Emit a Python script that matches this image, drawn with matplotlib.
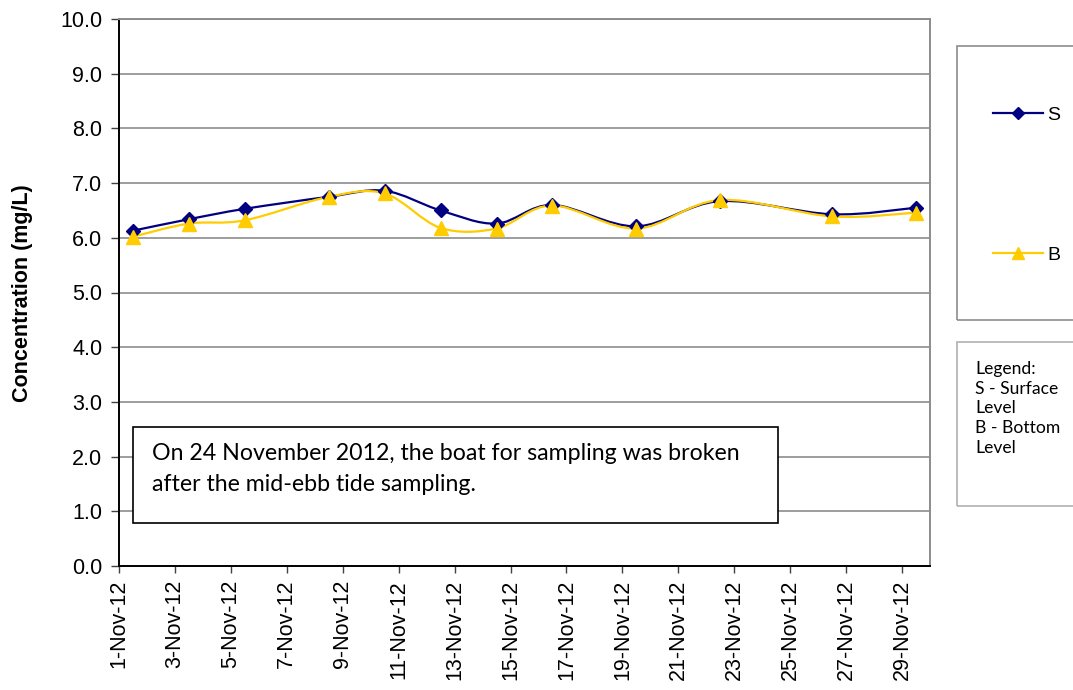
import matplotlib
matplotlib.use("Agg")
import matplotlib.pyplot as plt
import matplotlib.dates as mdates
import numpy as np
import pandas as pd
from matplotlib.path import Path
from matplotlib.patches import PathPatch, Rectangle
from matplotlib.lines import Line2D

# sampling times (mid-day) and concentrations (mg/L)
sample_times = ["2012-11-01 12:00", "2012-11-03 12:00", "2012-11-05 12:00",
                "2012-11-08 12:00", "2012-11-10 12:00", "2012-11-12 12:00",
                "2012-11-14 12:00", "2012-11-16 12:00", "2012-11-19 12:00",
                "2012-11-22 12:00", "2012-11-26 12:00", "2012-11-29 12:00"]
surface = [6.13, 6.34, 6.53, 6.75, 6.86, 6.50, 6.26, 6.60, 6.21, 6.67, 6.43, 6.55]
bottom = [6.02, 6.26, 6.32, 6.75, 6.81, 6.18, 6.17, 6.59, 6.17, 6.69, 6.39, 6.46]

tick_dates = pd.date_range("2012-11-01", "2012-11-29", freq="2D")
x_start, x_end = "2012-11-01", "2012-11-30"

note = "On 24 November 2012, the boat for sampling was broken\nafter the mid-ebb tide sampling."
key_text = "Legend:\nS - Surface\nLevel\nB - Bottom\nLevel"


def smooth_path(x, y):
    # excel-like smoothed line: cubic bezier through every point
    pts = np.column_stack([x, y])
    verts = [pts[0]]
    codes = [Path.MOVETO]
    n = len(pts)
    for i in range(n - 1):
        p0 = pts[max(i - 1, 0)]
        p1 = pts[i]
        p2 = pts[i + 1]
        p3 = pts[min(i + 2, n - 1)]
        c1 = p1 + (p2 - p0) / 6.0
        c2 = p2 - (p3 - p1) / 6.0
        verts += [c1, c2, p2]
        codes += [Path.CURVE4] * 3
    return Path(verts, codes)


x = mdates.date2num(pd.to_datetime(sample_times))

fig = plt.figure(figsize=(10.73, 6.9), dpi=100)
W, H = 1073, 690
ax = fig.add_axes([119 / W, 1 - 566 / H, (930 - 119) / W, (566 - 19) / H])

navy = "#000080"
gold = "#FFCC00"

ax.add_patch(PathPatch(smooth_path(x, surface), fill=False, ec=navy, lw=1.6, zorder=3))
ax.add_patch(PathPatch(smooth_path(x, bottom), fill=False, ec=gold, lw=1.6, zorder=4))
ax.plot(x, surface, ls="none", marker="D", ms=7, color=navy, zorder=5)
ax.plot(x, bottom, ls="none", marker="^", ms=10, color=gold, zorder=6)

ax.set_xlim(mdates.date2num(pd.Timestamp(x_start)), mdates.date2num(pd.Timestamp(x_end)))
ax.set_ylim(0, 10)
ax.set_yticks(np.arange(0, 10.1, 1.0))
ax.yaxis.set_major_formatter(matplotlib.ticker.FormatStrFormatter("%.1f"))
ax.set_xticks(mdates.date2num(tick_dates))
ax.set_xticklabels([f"{d.day}-Nov-12" for d in tick_dates], rotation=90)

for lab in ax.get_xticklabels() + ax.get_yticklabels():
    lab.set_fontfamily("Liberation Sans")
    lab.set_fontsize(15.5)

ax.tick_params(axis="y", direction="out", length=6, width=1, color="#404040", pad=6)
ax.tick_params(axis="x", direction="out", length=5, width=1, color="#404040", pad=5)
ax.grid(axis="y", color="#8c8c8c", lw=1.2)
ax.set_axisbelow(True)
for side in ["left", "bottom"]:
    ax.spines[side].set_color("black")
    ax.spines[side].set_linewidth(1.4)
for side in ["top", "right"]:
    ax.spines[side].set_color("#8c8c8c")
    ax.spines[side].set_linewidth(1.4)

fig.text(23 / W, 1 - 293 / H, "Concentration (mg/L)", rotation=90, ha="center", va="center",
         family="Liberation Sans", weight="bold", fontsize=15.5)

# note box inside the plot
ax.add_patch(Rectangle((133 / W, 1 - 523 / H), (778 - 133) / W, (523 - 427) / H,
                       transform=fig.transFigure, fill=True, fc="white", ec="black", lw=1.2, zorder=7))
fig.text(152 / W, 1 - 443 / H, note, ha="left", va="top", family="Lato", fontsize=16.7,
         linespacing=1.6, zorder=8)

# series legend box, runs off the right edge
fig.patches.append(Rectangle((957 / W, 1 - 320 / H), (1080 - 957) / W, (320 - 46) / H,
                             transform=fig.transFigure, fill=False, ec="#8c8c8c", lw=1.2))
handles = [Line2D([], [], color=navy, lw=1.6, marker="D", ms=6),
           Line2D([], [], color=gold, lw=1.6, marker="^", ms=8)]
fig.legend(handles, ["S", "B"], loc="center left", bbox_to_anchor=(975 / W, 1 - 185 / H),
           frameon=False, prop={"family": "Liberation Sans", "size": 14},
           handlelength=2.6, handletextpad=0.2, labelspacing=6.3)

# text key box
fig.patches.append(Rectangle((957 / W, 1 - 506 / H), (1080 - 957) / W, (506 - 342) / H,
                             transform=fig.transFigure, fill=False, ec="#b0b0b0", lw=1.2))
fig.text(975 / W, 1 - 361 / H, key_text, ha="left", va="top", family="Lato", fontsize=12.6,
         linespacing=1.28)

fig.savefig("out.png", dpi=100)
